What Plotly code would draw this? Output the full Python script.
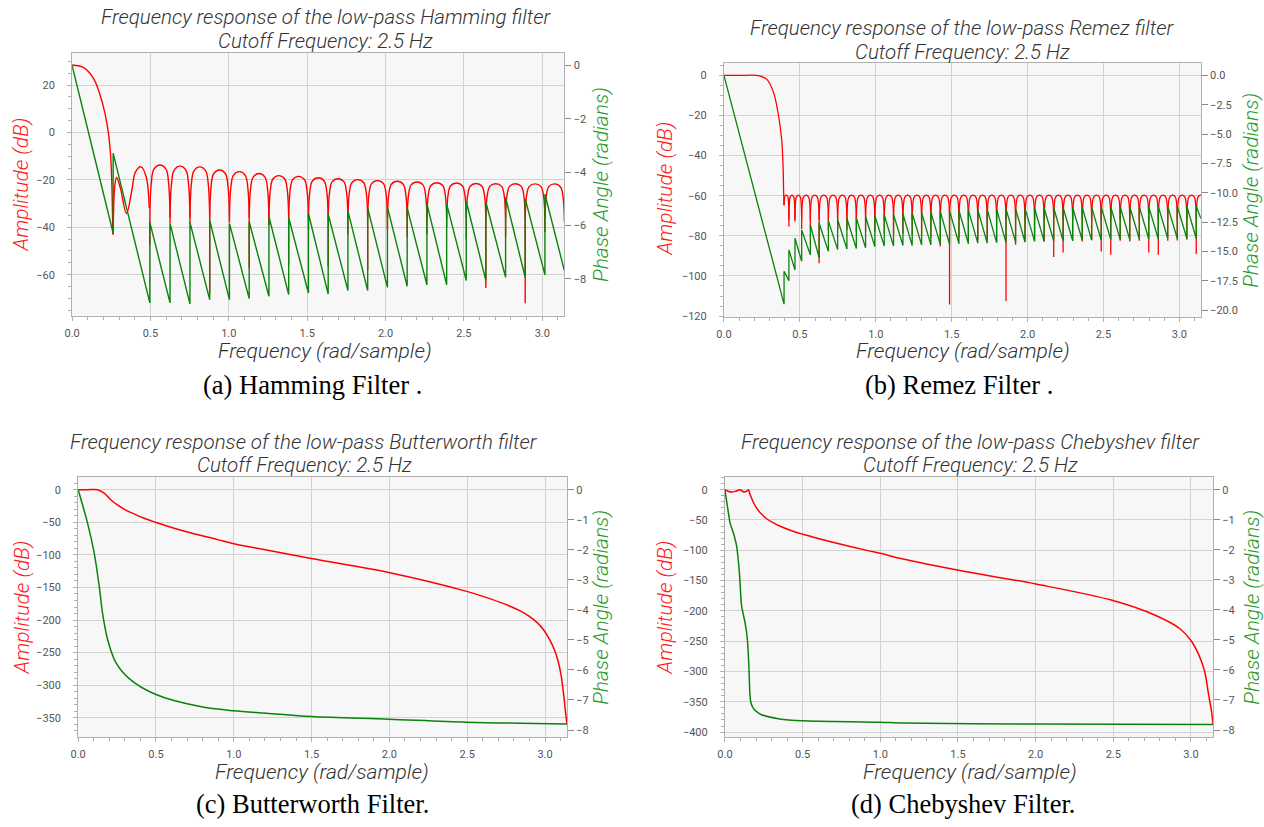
import plotly.graph_objects as go

W, H = 1264, 827
PI = 3.14159

# ---------------- (a) Hamming ----------------
ham_main_x = [0.0, 0.077, 0.14, 0.193, 0.225, 0.246, 0.26]
ham_main_db = [28.5, 27.3, 22.4, 12.6, 2.8, -9.8, -43.0]
ham_side_x = [0.262, 0.272, 0.284, 0.309, 0.347, 0.383, 0.404, 0.44, 0.473, 0.492]
ham_side_db = [-43.0, -23.0, -19.0, -23.7, -34.2, -23.7, -16.7, -14.5, -18.8, -32.0]
ham_null_x = [0.496, 0.625, 0.752, 0.878, 1.004, 1.130, 1.256, 1.382, 1.508, 1.634, 1.760,
              1.886, 2.012, 2.138, 2.264, 2.390, 2.515, 2.640, 2.766, 2.891, 3.017]
ham_null_db = [-47.4, -38.4, -38.4, -67.7, -38.0, -57.0, -39.0, -55.9, -41.0, -56.6, -43.0,
               -58.0, -41.0, -44.0, -43.0, -40.0, -45.0, -65.6, -44.0, -72.0, -42.0]
ham_peak_x = [0.561, 0.689, 0.815, 0.941, 1.067, 1.193, 1.319, 1.445, 1.571, 1.697, 1.823,
              1.949, 2.075, 2.201, 2.327, 2.453, 2.578, 2.703, 2.829, 2.954, 3.079]
ham_peak_db = [-13.7, -14.2, -14.5, -15.8, -16.5, -17.3, -18.2, -18.5, -19.1, -19.5, -19.9,
               -20.3, -20.6, -20.9, -21.2, -21.3, -21.5, -21.6, -21.6, -21.7, -21.7]
ham_end_db = -37.7
ham_foot_db = -36.0
ham_jump_x = [0.262] + ham_null_x
ham_phase_bottom = [-6.29, -8.90, -8.90, -8.94, -8.78, -8.78, -8.74, -8.65, -8.59, -8.53, -8.57,
                    -8.44, -8.44, -8.32, -8.28, -8.22, -8.22, -8.06, -8.06, -7.94, -7.94, -7.85]
ham_phase_top = [-3.29, -5.88, -5.92, -5.88, -5.80, -5.92, -5.86, -5.67, -5.71, -5.55, -5.57,
                 -5.45, -5.34, -5.31, -5.34, -5.19, -5.19, -5.09, -5.12, -4.95, -4.99, -4.83]
ham_phase_end = -7.7

# ---------------- (b) Remez ----------------
rem_pass_x = [0.0, 0.1, 0.216, 0.25, 0.283, 0.327, 0.356, 0.38, 0.39, 0.393, 0.396]
rem_pass_db = [0.0, 0.0, 0.0, -0.6, -2.0, -8.6, -18.5, -31.7, -46.5, -58.0, -64.7]
rem_null_x = [0.396, 0.428, 0.468, 0.512, 0.569, 0.627, 0.688, 0.749, 0.810, 0.872, 0.933,
              0.994, 1.056, 1.117, 1.179, 1.240, 1.302, 1.363, 1.425, 1.486, 1.548, 1.610,
              1.672, 1.734, 1.796, 1.858, 1.921, 1.983, 2.046, 2.109, 2.172, 2.234, 2.297,
              2.360, 2.422, 2.485, 2.548, 2.610, 2.673, 2.736, 2.798, 2.861, 2.923, 2.986,
              3.049, 3.111]
rem_null_db = [-64.7, -75.4, -72.9, -76.6, -76.0, -93.6, -77.0, -77.0, -77.0, -78.0, -78.0,
               -78.0, -79.0, -79.0, -79.0, -80.0, -80.0, -81.0, -85.3, -114.2, -81.0, -81.0,
               -82.0, -82.0, -83.3, -112.5, -84.5, -82.8, -82.5, -82.8, -90.6, -88.3, -82.5,
               -82.8, -82.0, -87.8, -89.4, -82.5, -82.8, -82.5, -88.3, -89.4, -82.5, -82.3,
               -82.0, -89.1]
rem_peak_x = [0.412, 0.448, 0.490, 0.541, 0.598, 0.658, 0.719, 0.780, 0.841, 0.903, 0.964,
              1.025, 1.087, 1.148, 1.210, 1.271, 1.333, 1.394, 1.456, 1.517, 1.579, 1.641,
              1.703, 1.765, 1.827, 1.890, 1.952, 2.015, 2.078, 2.141, 2.203, 2.266, 2.329,
              2.391, 2.454, 2.517, 2.579, 2.642, 2.705, 2.767, 2.830, 2.892, 2.955, 3.018,
              3.080, 3.138]
rem_peak_db = [-59.7, -59.7, -59.7, -59.7, -59.7, -59.7, -59.7, -59.7, -59.7, -59.7, -59.7,
               -59.7, -59.7, -59.7, -59.7, -59.7, -59.7, -59.7, -59.7, -59.7, -59.7, -59.7,
               -59.7, -59.7, -59.7, -59.7, -59.7, -59.7, -59.7, -59.7, -59.7, -59.7, -59.7,
               -59.7, -59.7, -59.7, -59.7, -59.7, -59.7, -59.7, -59.7, -59.7, -59.7, -59.7,
               -59.7, -59.7]
rem_end_db = -59.9
rem_foot_db = -72.0
rem_phase_bottom = [-19.5, -17.5, -16.6, -15.85, -15.3, -15.55, -15.0, -14.85, -14.8, -14.75,
                    -14.7, -14.6, -14.55, -14.55, -14.5, -14.5, -14.45, -14.45, -14.4, -14.4,
                    -14.35, -14.35, -14.3, -14.3, -14.25, -14.25, -14.2, -14.2, -14.15, -14.15,
                    -14.1, -14.1, -14.1, -14.05, -14.05, -14.05, -14.0, -14.0, -14.0, -13.95,
                    -13.95, -13.95, -13.9, -13.9, -13.9, -13.9]
rem_phase_top = [-16.7, -14.87, -13.88, -13.18, -12.75, -12.6, -12.4, -12.3, -12.2, -12.15,
                 -12.05, -11.95, -11.9, -11.85, -11.8, -11.75, -11.7, -11.65, -11.6, -11.55,
                 -11.5, -11.48, -11.45, -11.42, -11.4, -11.38, -11.36, -11.34, -11.32, -11.3,
                 -11.28, -11.26, -11.25, -11.24, -11.23, -11.22, -11.21, -11.2, -11.2, -11.19,
                 -11.18, -11.17, -11.16, -11.15, -11.15, -11.15]
rem_phase_end = -12.2

# ---------------- (c) Butterworth ----------------
bw_x = [0.0, 0.06, 0.124, 0.167, 0.209, 0.25, 0.3, 0.358, 0.42, 0.496, 0.678, 0.89, 1.0,
        1.21, 1.498, 1.995, 2.497, 2.65, 2.768, 2.84, 2.897, 2.95, 2.994, 3.03, 3.064, 3.085,
        3.103, 3.12, 3.135, PI]
bw_db = [0.0, 0.0, 0.0, -5.2, -15.3, -23.0, -30.5, -37.0, -43.5, -49.8, -63.5, -76.2, -82.9,
         -92.5, -105.7, -127.0, -156.0, -167.5, -178.0, -186.0, -194.0, -204.0, -216.0,
         -230.0, -248.0, -264.0, -284.0, -315.0, -348.0, -360.0]
bw_ph_x = [0.0, 0.06, 0.103, 0.135, 0.156, 0.188, 0.24, 0.326, 0.496, 0.784, 1.0, 1.21,
           1.498, 1.995, 2.497, PI]
bw_ph = [0.0, -1.1, -2.1, -3.2, -4.08, -4.96, -5.73, -6.28, -6.81, -7.22, -7.36, -7.44,
         -7.55, -7.64, -7.74, -7.8]

# ---------------- (d) Chebyshev ----------------
ch_x = [0.0, 0.02, 0.043, 0.07, 0.097, 0.113, 0.127, 0.142, 0.152, 0.158, 0.171, 0.185,
        0.203, 0.23, 0.267, 0.31, 0.352, 0.42, 0.501, 0.6, 0.714, 0.927, 1.0, 1.139, 1.505,
        2.002, 2.498, 2.774, 2.929, 3.006, 3.083, 3.114, 3.135, PI]
ch_db = [0.0, -2.5, -3.9, -2.5, 0.0, -2.5, -3.9, -2.0, 0.0, -5.0, -13.7, -22.0, -30.0,
         -39.0, -47.5, -54.5, -60.0, -67.0, -73.5, -80.5, -88.0, -101.0, -105.0, -114.0,
         -133.0, -155.7, -183.0, -207.7, -229.5, -251.0, -295.0, -338.8, -370.0, -388.0]
ch_ph_x = [0.0, 0.016, 0.033, 0.054, 0.075, 0.093, 0.107, 0.129, 0.144, 0.154, 0.161, 0.168,
           0.182, 0.202, 0.235, 0.352, 0.501, 1.0, 1.139, 2.0, PI]
ch_ph = [0.0, -0.55, -1.1, -1.43, -1.87, -2.76, -3.86, -4.41, -4.96, -5.84, -6.83, -7.1,
         -7.27, -7.38, -7.49, -7.63, -7.69, -7.74, -7.77, -7.8, -7.82]

titles = ["Hamming", "Remez", "Butterworth", "Chebyshev"]
captions = ["(a) Hamming Filter .", "(b) Remez Filter .", "(c) Butterworth Filter.",
            "(d) Chebyshev Filter."]

# arch profile of a stop-band lobe (drawing style: fraction across lobe, fraction of drop)
LOBE_FRAC = [0.0, 0.07, 0.2, 0.5, 0.8, 0.93, 1.0]
LOBE_DROP = [1.0, 0.35, 0.08, 0.0, 0.08, 0.35, 1.0]


# ---------------- helpers ----------------
def lobes(nx, nd, px, py, foot, end_y, head=None):
    xs, ys = [], []
    if head:
        for hx, hy in head:
            xs += list(hx) + [None]
            ys += list(hy) + [None]
    for i in range(len(px)):
        yl = max(nd[i], foot)
        if i + 1 < len(nx):
            xr, yr = nx[i + 1], max(nd[i + 1], foot)
        else:
            xr, yr = PI, end_y
        xl, xp, yp = nx[i], px[i], py[i]
        for f, d in zip(LOBE_FRAC, LOBE_DROP):
            if f <= 0.5:
                xs.append(xl + (xp - xl) * f / 0.5)
                ys.append(yp - d * (yp - yl))
            else:
                xs.append(xp + (xr - xp) * (f - 0.5) / 0.5)
                ys.append(yp - d * (yp - yr))
        xs.append(None)
        ys.append(None)
    for x, d in zip(nx, nd):
        if d < foot:
            xs += [x, x, None]
            ys += [foot, d, None]
    return xs, ys


def saw(jx, jb, jt, end_y):
    xs, ys = [0.0], [0.0]
    for x, b, t in zip(jx, jb, jt):
        xs += [x, x]
        ys += [b, t]
    xs.append(PI)
    ys.append(end_y)
    return xs, ys


RED = "#ff0000"
GREEN = "#0a830a"
fig = go.Figure()

# panel a
x, y = lobes(ham_null_x, ham_null_db, ham_peak_x, ham_peak_db, ham_foot_db, ham_end_db,
             head=[(ham_main_x, ham_main_db), (ham_side_x, ham_side_db)])
fig.add_trace(go.Scatter(x=x, y=y, mode="lines", line=dict(color=RED, width=1.4, shape="spline"),
                         connectgaps=False, xaxis="x", yaxis="y"))
x, y = saw(ham_jump_x, ham_phase_bottom, ham_phase_top, ham_phase_end)
fig.add_trace(go.Scatter(x=x, y=y, mode="lines", line=dict(color=GREEN, width=1.4),
                         xaxis="x", yaxis="y2"))
# panel b
x, y = lobes(rem_null_x, rem_null_db, rem_peak_x, rem_peak_db, rem_foot_db, rem_end_db,
             head=[(rem_pass_x, rem_pass_db)])
fig.add_trace(go.Scatter(x=x, y=y, mode="lines", line=dict(color=RED, width=1.3, shape="spline"),
                         connectgaps=False, xaxis="x2", yaxis="y3"))
x, y = saw(rem_null_x, rem_phase_bottom, rem_phase_top, rem_phase_end)
fig.add_trace(go.Scatter(x=x, y=y, mode="lines", line=dict(color=GREEN, width=1.3),
                         xaxis="x2", yaxis="y4"))
# panel c
fig.add_trace(go.Scatter(x=bw_x, y=bw_db, mode="lines",
                         line=dict(color=RED, width=1.5, shape="spline", smoothing=1.0),
                         xaxis="x3", yaxis="y5"))
fig.add_trace(go.Scatter(x=bw_ph_x, y=bw_ph, mode="lines",
                         line=dict(color=GREEN, width=1.5, shape="spline", smoothing=0.9),
                         xaxis="x3", yaxis="y6"))
# panel d
fig.add_trace(go.Scatter(x=ch_x, y=ch_db, mode="lines",
                         line=dict(color=RED, width=1.5, shape="spline", smoothing=1.0),
                         xaxis="x4", yaxis="y7"))
fig.add_trace(go.Scatter(x=ch_ph_x, y=ch_ph, mode="lines",
                         line=dict(color=GREEN, width=1.5, shape="spline", smoothing=0.6),
                         xaxis="x4", yaxis="y8"))

# ---------------- layout ----------------
boxes = [(64.5, 560.0, 53.0, 318.0), (720.5, 1200.5, 63.0, 319.0),
         (70.6, 562.6, 480.7, 742.3), (721.5, 1212.6, 480.7, 742.3)]
left_ranges = [(-77.3, 33.7), (-120.3, 6.4), (-379.4, 19.2), (-408.0, 20.6)]
left_dtick = [20, 20, 50, 50]
left_minor = [5, 5, 10, 10]
right_ranges = [(-9.38, 0.48), (-20.57, 1.1), (-8.23, 0.42), (-8.23, 0.42)]
right_dtick = [2, 2.5, 1, 1]
right_fmt = ["d", ".1f", "d", "d"]

TICKFONT = dict(family="Roboto", size=11, color="#555555")
FRAME = "#b0b0b0"
GRID = "#d2d2d2"
lay = {}
for k in range(4):
    l, r, t, b = boxes[k]
    xn = "xaxis" if k == 0 else f"xaxis{k + 1}"
    yl = "yaxis" if k == 0 else f"yaxis{2 * k + 1}"
    yr = f"yaxis{2 * k + 2}"
    xref = "x" if k == 0 else f"x{k + 1}"
    ylref = "y" if k == 0 else f"y{2 * k + 1}"
    lay[xn] = dict(domain=[l / W, r / W], anchor=ylref, range=[0, PI], tick0=0, dtick=0.5,
                   tickformat=".1f", showgrid=True, gridcolor=GRID, gridwidth=1, zeroline=False,
                   showline=True, linecolor=FRAME, linewidth=1, mirror=True,
                   ticks="outside", ticklen=4, tickcolor=FRAME, tickfont=TICKFONT,
                   ticklabelstandoff=3,
                   minor=dict(dtick=0.1, ticks="outside", ticklen=3, tickcolor=FRAME,
                              showgrid=False))
    lay[yl] = dict(domain=[1 - b / H, 1 - t / H], anchor=xref, range=list(left_ranges[k]),
                   dtick=left_dtick[k], showgrid=True, gridcolor=GRID, gridwidth=1,
                   zeroline=False, showline=True, linecolor=FRAME, linewidth=1,
                   ticks="outside", ticklen=4, tickcolor=FRAME, tickfont=TICKFONT,
                   ticklabelstandoff=10,
                   minor=dict(dtick=left_minor[k], ticks="outside", ticklen=3,
                              tickcolor=FRAME, showgrid=False))
    lay[yr] = dict(overlaying=ylref, side="right", anchor=xref, range=list(right_ranges[k]),
                   dtick=right_dtick[k], tickformat=right_fmt[k], showgrid=False,
                   zeroline=False, showline=True, linecolor=FRAME, linewidth=1,
                   ticks="outside", ticklen=6, tickcolor="#888888", tickfont=TICKFONT)

ann = []
TFONT = dict(family="Roboto", size=20.5, color="#333333", style="italic", weight=300)
AFONT = dict(family="Roboto", size=21, style="italic", weight=300)


def add_text(text, px, py, font, angle=0):
    ann.append(dict(text=text, x=px / W, y=1 - py / H, xref="paper", yref="paper",
                    xanchor="center", yanchor="middle", showarrow=False, font=font,
                    textangle=angle))


title1_pos = [(320, 17), (961, 28), (298, 445), (969, 445)]
title2_pos = [(320, 41), (961, 52), (298, 468), (969, 468)]
amp_pos = [(13, 186), (661, 190), (14, 612), (661, 612)]
ph_pos = [(596, 186), (1251, 192), (596, 612), (1251, 612)]
fq_pos = [(319, 354), (961, 354), (316, 778), (968, 778)]
cap_pos = [(306, 388), (957, 388), (306, 810), (962, 810)]
for k in range(4):
    add_text(f"Frequency response of the low-pass {titles[k]} filter", *title1_pos[k], TFONT)
    add_text("Cutoff Frequency: 2.5 Hz", *title2_pos[k], TFONT)
    add_text("Amplitude (dB)", *amp_pos[k], dict(AFONT, color="#ff1a1a"), -90)
    add_text("Phase Angle (radians)", *ph_pos[k], dict(AFONT, color="#2a9a2a"), -90)
    add_text("Frequency (rad/sample)", *fq_pos[k], dict(AFONT, color="#333333"))
    add_text(captions[k], *cap_pos[k], dict(family="Liberation Serif", size=26.5, color="#000000"))

fig.update_layout(width=W, height=H, margin=dict(l=0, r=0, t=0, b=0, pad=0),
                  paper_bgcolor="white", plot_bgcolor="#f7f7f7", showlegend=False,
                  annotations=ann, **lay)
fig.write_html("out.html")
